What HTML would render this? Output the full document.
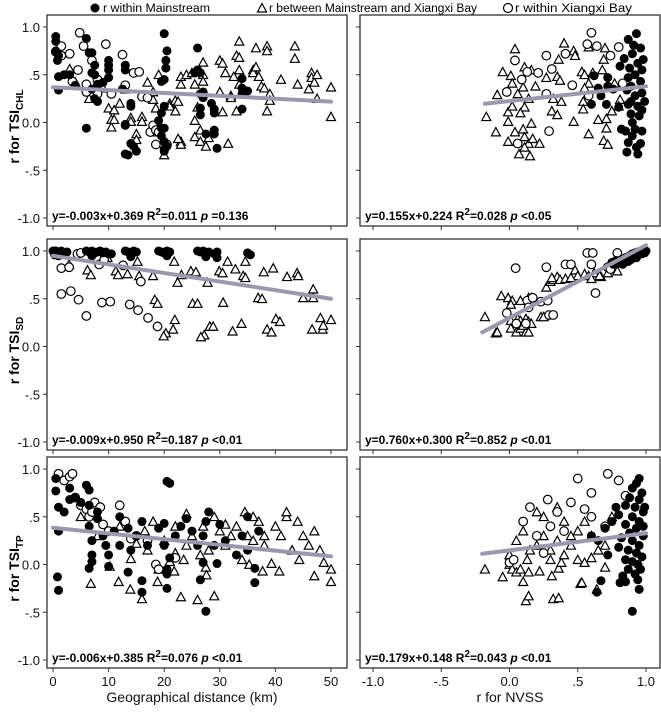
<!DOCTYPE html>
<html><head><meta charset="utf-8"><style>
html,body{margin:0;padding:0;background:#fff;}
svg{display:block;font-family:"Liberation Sans",sans-serif;}
</style></head><body>
<svg id="chart" width="661" height="712" viewBox="0 0 661 712"></svg>
<script>
// ---------- data ----------
const xTicksLeft=[0,10,20,30,40,50];
const xTicksRight=[-1,-0.5,0,0.5,1];
const xTickLabelsRight=["-1.0","-.5","0.0",".5","1.0"];
const yTicks=[1,0.5,0,-0.5,-1];
const yTickLabels=["1.0",".5","0.0","-.5","-1.0"];
const rowTitles=["CHL","SD","TP"];

// Panel A: TSI_CHL vs distance
const aMainX=[0.5,0.5,0.5,0.8,1,1,1,2,3,4,6,6.5,7,7.5,7.5,7,7,7.5,8,8,6,9,10,10,10,10,13,13,12.5,14,14,13,13,13,13.5,14,14.5,15,20,20.5,20.3,20.3,20,19.5,20,19.5,19,19.5,20,19.5,20,20.5,20,20,26,26,25.5,26.5,27,26.5,27,26.5,26.5,27.5,28.5,29,29,29,29,29.5,34,34,34,34,35];
const aMainY=[.9,.85,.75,.65,.7,.48,.34,.5,.5,.39,.88,.73,.73,.6,.5,.52,.35,.25,.22,.4,-.06,.42,.47,.55,.6,.65,.55,.6,.35,.2,.17,-.03,-.02,-.33,-.34,-.22,-.25,-.3,.93,.75,.65,.57,.45,.43,.17,.1,.02,-.06,-.06,-.14,-.2,-.25,-.28,-.3,.78,.55,.52,.52,.32,.3,.26,.15,.08,-.12,.2,.1,.14,-.08,-.12,-.27,.46,.36,.3,.14,.33];
const aBayX=[0.5,1.5,1.5,3,3.5,4.5,4.8,5.5,6,7,6,8,8,9.5,10.5,12.5,13,14.5,15.5,16,17,17.5,18,18.5,19,18.5,20.5];
const aBayY=[.74,.8,.7,.72,.43,.55,.94,.8,.32,.65,.4,.3,.45,.82,.3,.71,.39,.52,.53,.27,.26,-.1,-.03,-.08,-.1,-.23,-.23];
const aBetX=[3,4,6.5,9,10,10.5,10.5,11,11,12,13,14,14,15,15,16,16,16.5,17,18,18,18.5,18.5,18.5,19,20,21,21,22,22,22.5,23,23,24,23,23,22.5,25,25.5,25.5,25.5,26,26.5,26.5,27,27,27,27.5,28,30,30,30.5,30.5,31,32,32,32.5,33,33.5,33.5,33.5,33.5,33,31.5,36,36,36.5,36.5,37,37.5,38,38.5,38.5,38.5,39,39,41,43.5,43.5,44,46,46.5,46.5,47,47.5,47.5,50,50];
const aBetY=[.56,.42,.25,.36,.15,-.05,.03,.13,.03,.2,.35,.05,.01,-.12,-.18,.06,.01,.27,.42,.24,.32,.15,-.04,-.1,.5,-.34,.2,.17,.12,.23,.22,.48,.4,.5,-.2,-.23,-.17,.52,.4,.02,-.15,.16,-.08,-.2,.63,.5,.43,-.25,-.16,.65,.32,.62,.11,.52,.28,.26,.48,.7,.68,.85,.55,.4,.12,-.22,.55,.52,.78,.58,.48,.38,.36,.8,.75,.12,.3,.23,.45,.8,.67,.4,.35,.52,.47,.42,.5,.25,.37,.06];

// Panel B: TSI_CHL vs NVSS
const bMainX=[.87,.93,.91,.96,.9,.98,.94,.81,.88,.97,.92,.87,.96,.72,.62,.65,.72,.89,.97,.92,.99,.67,.6,.71,.8,.87,.94,.89,.95,.9,.82,.85,.92,.97,.9,.87,.96,.86,.94,.93,.76,.86,.97,.89,.84];
const bMainY=[.87,.93,.81,.78,.72,.66,.62,.59,.57,.55,.5,.47,.43,.47,.49,.36,.38,.38,.31,.28,.22,.28,.19,.19,.16,.19,.17,.09,.07,0,-.07,-.09,-.07,-.09,-.14,-.21,-.22,-.31,-.33,-.26,.35,.34,.13,.22,.67];
const bBayX=[.6,.04,.27,.41,.57,.64,.8,.31,.13,.21,.09,-.02,.27,.46,.29,.06,.74,.83,.58];
const bBayY=[.94,.65,.7,.72,.82,.8,.79,.56,.53,.52,.45,.32,.3,.39,-.09,-.22,.7,.41,.28];
const bBetX=[.04,.4,.47,.48,.36,-.05,.01,.02,.1,.11,.16,.19,.27,.35,.37,.53,.55,.61,.58,.68,.69,.7,.58,-.09,.06,.14,.32,.38,.54,.54,.55,.77,.81,.75,.8,-.17,-.01,.02,.11,.08,.31,.35,-.01,.16,.47,.65,.71,.71,-.1,.04,.1,.11,.14,.17,.22,-.01,.07,.15,.58,.69,.72,.11];
const bBetY=[.77,.83,.75,.7,.66,.53,.49,.41,.37,.58,.55,.38,.47,.48,.44,.53,.5,.52,.41,.55,.66,.78,.79,.29,.3,.25,.25,.22,.22,.14,.36,.41,.24,.12,.17,.06,.11,.17,.16,.1,.12,.08,.01,-.01,.01,.03,.04,-.06,-.1,-.1,-.07,-.15,-.22,-.17,-.22,-.2,-.33,-.35,-.12,-.19,-.23,-.26];

// Panel C: TSI_SD vs distance
const cMainX=[0,0.5,1,1.5,2,2.5,6,6.5,7,7.5,8,8.5,9,9.5,10,13,13.5,14,14.5,15,19,19.5,20,20.5,21,26,26.5,27,27.5,28,29,29.5,35,35.5,1,7,14,20.5,27.5,29.5,10.5,0.3];
const cMainY=[1,1,.99,1,.98,.99,1,.99,1,.98,.99,1,.98,.99,.97,1,.99,.98,1,.99,1,.99,.98,1,.99,1,.99,1,.98,.99,.97,.99,.98,.96,.95,.95,.94,.95,.94,.93,.97,.96];
const cBayX=[1.5,2.9,4.4,5,8.3,12.6,15.8,1.5,3.2,4.6,6,8.8,10.3,13.8,15.3,17.1,18.8,9.2];
const cBayY=[.82,.83,.97,.98,.86,.85,.68,.55,.58,.49,.32,.46,.47,.44,.38,.3,.21,.91];
const cBetX=[2.9,6.2,6.8,9.8,11.3,11.7,13.4,15.2,15.5,18,21.8,23.1,22.4,24.8,25.7,27.8,29.9,30.5,31.4,32.8,34.2,34.6,34.6,37.9,39.6,42.1,43.9,44.1,45,46.8,46.8,18.3,18.8,25.1,26,30.6,36.9,37.6,21.9,21.6,20.3,19.9,28.2,28.8,27.2,26.6,32.3,33.9,38.5,39.3,40.1,40.8,46.6,48.1,50,48.5,48.6];
const cBetY=[.86,.8,.75,.93,.79,.75,.76,.89,.74,.74,.89,.75,.67,.79,.78,.67,.79,.77,.89,.81,.74,.72,.89,.78,.82,.73,.77,.74,.51,.6,.51,.49,.45,.45,.45,.46,.51,.5,.28,.18,.14,.11,.21,.21,.12,.1,.16,.24,.18,.15,.29,.26,.18,.3,.28,.18,.22];

// Panel D: TSI_SD vs NVSS
const dMainX=[.75,.78,.8,.82,.84,.85,.86,.88,.88,.9,.9,.91,.92,.93,.94,.95,.96,.97,.98,.99,.99,1,.95,.93,.87,.83,.76,.79,.97,.89];
const dMainY=[.88,.9,.88,.91,.9,.93,.92,.95,.93,.95,.97,.94,.98,.96,.99,.97,1,.99,1,.98,1,1,.99,.93,.89,.86,.86,.87,.97,.91];
const dBayX=[.045,.27,.57,.61,.41,.45,.63,.79,.84,-.02,.13,.17,.23,.28,.29,.32,.05,.12,.14,.72,.74,.6];
const dBayY=[.82,.83,.98,.98,.86,.86,.56,.98,.9,.35,.48,.51,.47,.48,.33,.33,.24,.24,.41,.83,.81,.86];
const dBetX=[-.18,-.1,-.09,-.06,-.01,.02,.01,.08,.14,.16,.01,.06,.08,.12,.14,.16,.01,.05,.08,.12,.14,.1,.23,.25,.27,.3,.32,.35,.37,.31,.41,.48,.55,.58,.62,.67,.72,.79,.5,.45,.66,.6];
const dBetY=[.31,.14,.15,.53,.51,.48,.44,.48,.51,.51,.27,.29,.27,.29,.26,.24,.19,.15,.19,.15,.15,.22,.31,.31,.62,.68,.7,.73,.7,.72,.71,.8,.76,.74,.77,.73,.77,.79,.74,.72,.74,.71];

// Panel E: TSI_TP vs distance
const eMainX=[0.5,0.5,1,1,0.8,1,2,3,3,4,5,6,6.5,6.5,6.5,6.5,7,7,7,8,8,9,9.5,10,10,11,12,12,13.5,13.5,14,15,16,16,16,17,19,20,20,20.5,20.5,20.5,20.5,21,21,22,23,24,25,26,26.5,27,27.5,27.5,28,29,29.5,30,31,33,34,35,36.3,36.3,35,37,27];
const eMainY=[.9,.77,.6,.35,-.13,-.27,.55,.8,.68,.7,.65,.83,.78,.62,.4,-.04,.03,.1,.25,.55,.48,.3,.2,.1,-.02,.35,.5,.2,-.08,.38,.15,.3,.45,-.17,-.29,.2,.38,.43,.2,-.05,-.1,-.25,.87,.85,.07,.3,.4,.48,.35,.2,-.16,.02,.45,-.49,.55,.2,.01,.42,.25,.1,.3,.15,-.04,-.19,.5,.35,.3];
const eBayX=[1,2,3,3.5,4,5,6,6.5,7,7.5,8.5,9,10,12,13,14,18.5,19,17,22,15];
const eBayY=[.95,.88,.92,.95,.7,.62,.58,.5,.55,.65,.6,.42,.35,.62,.45,.27,0,-.05,.25,.07,.3];
const eBetX=[5,6.8,8,10.2,11.8,12,13.9,14,15,16,16.5,17,18,18.8,19,20,21,21.8,22,22,23,23.5,24,24,25,26,26.5,27,27.5,27.6,28,29,29,30,31,31,32,33,34,34.5,35,35.3,36,37,37.7,38,39.3,40,40.7,41,42,43,44,44.3,45,46,47,47,48,48.7,50,50,36,38,42];
const eBetY=[.5,-.2,.3,-.02,-.18,.4,-.26,.06,.22,-.36,.35,.15,.45,-.18,-.05,.25,.03,-.07,.12,.4,-.34,.05,.2,.53,.3,-.37,.1,.4,-.03,-.11,.15,-.33,.5,.35,.2,.42,.3,.4,.05,.55,.3,0,.25,.45,-.07,.2,.01,.4,-.07,.3,.5,.15,.45,.05,.3,.2,-.12,.35,.15,.02,-.05,-.18,.5,.3,.55];

// Panel F: TSI_TP vs NVSS
const fMainX=[.95,.93,.9,.97,.88,.95,.85,.92,.98,.8,.9,.95,.85,.75,.7,.93,.88,.98,.82,.9,.95,.8,.87,.93,.97,.85,.9,.94,.87,.96,.83,.92,.85,.81,.67,.94,.95,.64,.9,.6,.65,.72,.98,.99,.78];
const fMainY=[.9,.85,.8,.75,.7,.68,.62,.6,.55,.52,.5,.45,.42,.45,.38,.38,.33,.3,.28,.25,.2,.18,.15,.12,.08,.05,.03,0,-.05,-.05,-.12,-.1,-.18,-.19,-.17,-.16,-.26,-.29,-.49,.3,.25,.1,.4,.6,.6];
const fBayX=[.72,.5,.8,.6,.28,.45,.15,.35,.55,.1,.3,.6,.2,.4,0,.03,.7,.85,.25];
const fBayY=[.95,.9,.88,.75,.68,.65,.6,.55,.58,.45,.4,.5,.3,.35,.02,.05,.4,.72,.12];
const fBetX=[-.18,-.05,0,.02,.05,.08,.1,.12,.14,.13,.14,.22,.31,.32,.36,.36,.38,.52,.53,.64,.7,.5,.55,.6,.2,.25,.35,.4,.15,.3,.45,.5,.55,.1,.25,.4,.6,.65,.7,.75,.05,.3,.45,.2,.35,0];
const fBetY=[-.05,-.13,0,-.05,-.08,-.05,-.18,-.38,-.33,.05,-.08,-.07,-.12,-.36,-.35,-.04,.02,-.2,-.19,-.26,-.03,.05,.02,.07,.2,.3,.25,.1,.15,.05,.2,.35,.45,.35,.5,.45,.3,.15,.2,.5,.25,.15,.3,.55,.6,.1];

const slopes=[-0.003,0.155,-0.009,0.760,-0.006,0.179];
const intercepts=[0.369,0.224,0.950,0.300,0.385,0.148];
const fitRanges=[[0,50],[-0.18,1],[0,50],[-0.2,1],[0,50],[-0.2,1]];
const equations=[
 ["y=-0.003x+0.369 R","=0.011 ","p"," =0.136"],
 ["y=0.155x+0.224 R","=0.028 ","p"," <0.05"],
 ["y=-0.009x+0.950 R","=0.187 ","p"," <0.01"],
 ["y=0.760x+0.300 R","=0.852 ","p"," <0.01"],
 ["y=-0.006x+0.385 R","=0.076 ","p"," <0.01"],
 ["y=0.179x+0.148 R","=0.043 ","p"," <0.01"]];

const panelData=[
 [aMainX,aMainY,aBayX,aBayY,aBetX,aBetY],
 [bMainX,bMainY,bBayX,bBayY,bBetX,bBetY],
 [cMainX,cMainY,cBayX,cBayY,cBetX,cBetY],
 [dMainX,dMainY,dBayX,dBayY,dBetX,dBetY],
 [eMainX,eMainY,eBayX,eBayY,eBetX,eBetY],
 [fMainX,fMainY,fBayX,fBayY,fBetX,fBetY]];

// ---------- drawing ----------
const NS="http://www.w3.org/2000/svg";
const svg=document.getElementById('chart');
function mk(tag,attrs,parent){const e=document.createElementNS(NS,tag);for(const k in attrs)e.setAttribute(k,attrs[k]);(parent||svg).appendChild(e);return e;}
const rowTops=[15,239,457];
const H=211;
const leftBox=[47,347], rightBox=[360,660];
function xLeft(v){return 53+v*5.56;}
function xRight(v){return 373+(v+1)*136.5;}
function yScale(top,v){return top+12+(1-v)*95.5;}

// legend
const lg=mk('g',{});


const le1=mk('g',{},lg);


mk('circle',{cx:95,cy:8,r:4.5,fill:'#000'},le1);
const t1=mk('text',{x:103,y:12,'font-size':11.5,textLength:107,lengthAdjust:'spacingAndGlyphs'},le1);t1.textContent='r within Mainstream';
const le2=mk('g',{},lg);


mk('polygon',{points:'262,3.5 257.5,12 266.5,12',fill:'#fff',stroke:'#000','stroke-width':1.2},le2);
const t2=mk('text',{x:269,y:12,'font-size':11.5,textLength:208,lengthAdjust:'spacingAndGlyphs'},le2);t2.textContent='r between Mainstream and Xiangxi Bay';
const le3=mk('g',{},lg);


mk('circle',{cx:508,cy:8,r:4.5,fill:'#fff',stroke:'#000','stroke-width':1.2},le3);
const t3=mk('text',{x:515,y:12,'font-size':11.5,textLength:117,lengthAdjust:'spacingAndGlyphs'},le3);t3.textContent='r within Xiangxi Bay';

for(let p=0;p<6;p++){
  const row=Math.floor(p/2), isRight=p%2===1;
  const top=rowTops[row];
  const box=isRight?rightBox:leftBox;
  const xs=isRight?xRight:xLeft;
  const ys=v=>yScale(top,v);
  const g=mk('g',{});
  
  
  const fr=mk('rect',{x:box[0],y:top,width:box[1]-box[0],height:H,fill:'none',stroke:'#333','stroke-width':1.3},g);
  
  
  for(let i=0;i<yTicks.length;i++){
    const yy=ys(yTicks[i]);
    mk('line',{x1:box[0]-4,x2:box[0],y1:yy,y2:yy,stroke:'#333','stroke-width':1},g);
    if(!isRight){
      const t=mk('text',{x:40,y:yy+5,'font-size':13,'text-anchor':'end',fill:'#111'},g);
      
      
      t.textContent=yTickLabels[i];
    }
  }
  const xt=isRight?xTicksRight:xTicksLeft;
  for(let i=0;i<xt.length;i++){
    const xx=xs(xt[i]);
    mk('line',{x1:xx,x2:xx,y1:top+H,y2:top+H+4,stroke:'#333','stroke-width':1},g);
    if(row===2){
      const t=mk('text',{x:xx,y:top+H+18,'font-size':13,'text-anchor':'middle',fill:'#111'},g);
      
      
      t.textContent=isRight?xTickLabelsRight[i]:String(xt[i]);
    }
  }
  const d=panelData[p];
  for(let i=0;i<d[4].length;i++){
    const cx=xs(d[4][i]),cy=ys(d[5][i]);
    const m=mk('polygon',{points:`${cx},${cy-4.5} ${cx-4.5},${cy+3.8} ${cx+4.5},${cy+3.8}`,fill:'#fff',stroke:'#000','stroke-width':1.2},g);
    
    
  }
  for(let i=0;i<d[2].length;i++){
    const m=mk('circle',{cx:xs(d[2][i]),cy:ys(d[3][i]),r:4.3,fill:'#fff',stroke:'#000','stroke-width':1.2},g);
    
    
  }
  for(let i=0;i<d[0].length;i++){
    const m=mk('circle',{cx:xs(d[0][i]),cy:ys(d[1][i]),r:4.5,fill:'#000'},g);
    
    
  }
  const r=fitRanges[p];
  const ln=mk('line',{x1:xs(r[0]),y1:ys(slopes[p]*r[0]+intercepts[p]),x2:xs(r[1]),y2:ys(slopes[p]*r[1]+intercepts[p]),stroke:'#9a98ae','stroke-width':4,'stroke-linecap':'round'},g);
  
  
  const eq=equations[p];
  const t=mk('text',{x:box[0]+5,y:ys(-1)+2,'font-size':12,'font-weight':'bold',fill:'#000'},g);
  
  
  const s1=mk('tspan',{},t);s1.textContent=eq[0];
  const s2=mk('tspan',{dy:-5,'font-size':10},t);s2.textContent='2';
  const s3=mk('tspan',{dy:5},t);s3.textContent=eq[1];
  const s4=mk('tspan',{'font-style':'italic'},t);s4.textContent=eq[2];
  const s5=mk('tspan',{},t);s5.textContent=eq[3];
}
for(let row=0;row<3;row++){
  const cy=rowTops[row]+H/2+6;
  const t=mk('text',{x:0,y:0,'font-size':14,'font-weight':'bold','text-anchor':'middle',transform:`translate(19,${cy}) rotate(-90)`});
  
  
  const a=mk('tspan',{},t);a.textContent='r for TSI';
  const b=mk('tspan',{dy:4,'font-size':10},t);b.textContent=rowTitles[row];
}
const xt1=mk('text',{x:192,y:702,'font-size':14,'text-anchor':'middle',fill:'#111'});


xt1.textContent='Geographical distance (km)';
const xt2=mk('text',{x:510,y:702,'font-size':14,'text-anchor':'middle',fill:'#111'});


xt2.textContent='r for NVSS';
</script>
</body></html>
